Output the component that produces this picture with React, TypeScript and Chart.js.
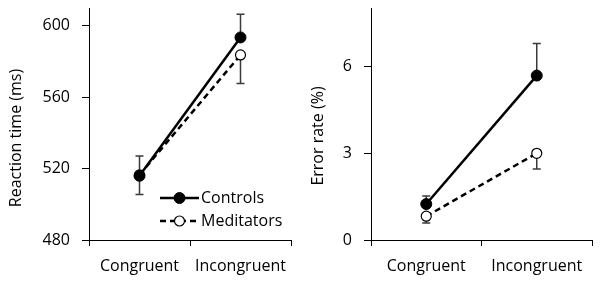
import React, { useEffect, useRef } from "react";
import { Chart, registerables } from "chart.js";

Chart.register(...registerables);

const categories = ["Congruent", "Incongruent"];
const seriesNames = ["Controls", "Meditators"];

// Reaction time panel
const rtControls = [516, 593.5];
const rtControlsErr = [11, 13];
const rtMeditators = [516.5, 583.7];
const rtMeditatorsErr = [11, 16];
const rtTicks = [480, 520, 560, 600];
const rtMin = 480;
const rtMax = 610;

// Error rate panel
const erControls = [1.24, 5.67];
const erControlsErr = [0.28, 1.11];
const erMeditators = [0.82, 2.99];
const erMeditatorsErr = [0.23, 0.54];
const erTicks = [0, 3, 6];
const erMin = 0;
const erMax = 8;

const FONT = "'Open Sans', sans-serif";

const errorBarPlugin = {
  id: "errorBars",
  beforeDatasetsDraw(chart: any) {
    const ctx = chart.ctx;
    const y = chart.scales.y;
    chart.data.datasets.forEach((ds: any, i: number) => {
      const meta = chart.getDatasetMeta(i);
      meta.data.forEach((pt: any, j: number) => {
        const v = ds.data[j];
        const e = ds.errors[j];
        const end = y.getPixelForValue(v + ds.errDir * e);
        ctx.save();
        ctx.strokeStyle = "#3a3a3a";
        ctx.lineWidth = 1.5;
        ctx.beginPath();
        ctx.moveTo(pt.x, pt.y);
        ctx.lineTo(pt.x, end);
        ctx.moveTo(pt.x - 4, end);
        ctx.lineTo(pt.x + 4, end);
        ctx.stroke();
        ctx.restore();
      });
    });
  },
};

const yTitlePlugin = {
  id: "yTitle",
  afterDraw(chart: any, _args: any, opts: any) {
    if (!opts || !opts.text) return;
    const ctx = chart.ctx;
    ctx.save();
    ctx.translate(opts.x, opts.y);
    ctx.rotate(-Math.PI / 2);
    ctx.font = `16px ${FONT}`;
    ctx.fillStyle = "#000";
    ctx.textAlign = "center";
    ctx.textBaseline = "middle";
    ctx.fillText(opts.text, 0, 0);
    ctx.restore();
  },
};

const innerLegendPlugin = {
  id: "innerLegend",
  afterDraw(chart: any, _args: any, opts: any) {
    if (!opts || !opts.show) return;
    const ctx = chart.ctx;
    chart.data.datasets.forEach((ds: any, i: number) => {
      const yy = opts.y + i * opts.rowGap;
      ctx.save();
      ctx.strokeStyle = "#000";
      ctx.lineWidth = ds.borderWidth;
      ctx.setLineDash(ds.borderDash || []);
      ctx.beginPath();
      ctx.moveTo(opts.x, yy);
      ctx.lineTo(opts.x + opts.lineLen, yy);
      ctx.stroke();
      ctx.setLineDash([]);
      ctx.beginPath();
      ctx.arc(opts.x + opts.lineLen / 2, yy, ds.pointRadius, 0, Math.PI * 2);
      ctx.fillStyle = ds.pointBackgroundColor;
      ctx.fill();
      ctx.lineWidth = ds.pointBorderWidth;
      ctx.strokeStyle = ds.pointBorderColor;
      ctx.stroke();
      ctx.font = `16px ${FONT}`;
      ctx.fillStyle = "#000";
      ctx.textAlign = "left";
      ctx.textBaseline = "middle";
      ctx.fillText(ds.label, opts.x + opts.lineLen + 2, yy);
      ctx.restore();
    });
  },
};

type Panel = {
  controls: number[];
  controlsErr: number[];
  meditators: number[];
  meditatorsErr: number[];
  ticks: number[];
  min: number;
  max: number;
  title: string;
  titleX: number;
  titleY: number;
  axisLeft: number;
  padRight: number;
  legend: boolean;
};

function makeConfig(p: Panel): any {
  return {
    type: "line",
    data: {
      labels: categories,
      datasets: [
        {
          label: seriesNames[0],
          data: p.controls,
          errors: p.controlsErr,
          errDir: 1,
          borderColor: "#000",
          backgroundColor: "#000",
          borderWidth: 2.5,
          pointRadius: 5.5,
          pointBackgroundColor: "#000",
          pointBorderColor: "#000",
          pointBorderWidth: 1,
        },
        {
          label: seriesNames[1],
          data: p.meditators,
          errors: p.meditatorsErr,
          errDir: -1,
          borderColor: "#000",
          backgroundColor: "#fff",
          borderWidth: 2.5,
          borderDash: [6, 4],
          pointRadius: 5,
          pointBackgroundColor: "#fff",
          pointBorderColor: "#000",
          pointBorderWidth: 1.2,
        },
      ],
    },
    options: {
      responsive: false,
      animation: false,
      layout: { padding: { top: 8, right: p.padRight, left: 0, bottom: 0 } },
      plugins: {
        legend: { display: false },
        tooltip: { enabled: false },
        yTitle: { text: p.title, x: p.titleX, y: p.titleY },
        innerLegend: { show: p.legend, x: 160, y: 198, rowGap: 23, lineLen: 39 },
      },
      scales: {
        x: {
          type: "category",
          offset: true,
          grid: {
            offset: true,
            drawOnChartArea: false,
            drawTicks: true,
            tickLength: 6,
            color: "#000",
          },
          border: { display: true, color: "#000", width: 1 },
          ticks: { color: "#000", font: { family: FONT, size: 16 }, padding: 11, maxRotation: 0 },
          afterFit: (s: any) => {
            s.height = 42;
            s.paddingLeft = 0;
            s.paddingRight = 0;
          },
        },
        y: {
          min: p.min,
          max: p.max,
          grid: {
            drawOnChartArea: false,
            drawTicks: true,
            tickLength: 7,
            color: "#000",
          },
          border: { display: true, color: "#000", width: 1 },
          ticks: { color: "#000", font: { family: FONT, size: 16 }, padding: 12 },
          afterBuildTicks: (s: any) => {
            s.ticks = p.ticks.map((v) => ({ value: v }));
          },
          afterFit: (s: any) => {
            s.width = p.axisLeft;
            s.paddingTop = 0;
            s.paddingBottom = 0;
          },
        },
      },
    },
    plugins: [errorBarPlugin, yTitlePlugin, innerLegendPlugin],
  };
}

function PanelChart({ panel }: { panel: Panel }) {
  const ref = useRef<HTMLCanvasElement | null>(null);
  useEffect(() => {
    if (!ref.current) return;
    const chart = new Chart(ref.current, makeConfig(panel));
    return () => chart.destroy();
  }, [panel]);
  return <canvas ref={ref} width={300} height={282} style={{ display: "block", width: 300, height: 282 }} />;
}

const leftPanel: Panel = {
  controls: rtControls,
  controlsErr: rtControlsErr,
  meditators: rtMeditators,
  meditatorsErr: rtMeditatorsErr,
  ticks: rtTicks,
  min: rtMin,
  max: rtMax,
  title: "Reaction time (ms)",
  titleX: 16,
  titleY: 138,
  axisLeft: 89,
  padRight: 9,
  legend: true,
};

const rightPanel: Panel = {
  controls: erControls,
  controlsErr: erControlsErr,
  meditators: erMeditators,
  meditatorsErr: erMeditatorsErr,
  ticks: erTicks,
  min: erMin,
  max: erMax,
  title: "Error rate (%)",
  titleX: 18,
  titleY: 136,
  axisLeft: 71,
  padRight: 8,
  legend: false,
};

export default function App() {
  return (
    <div
      style={{
        position: "absolute",
        left: 0,
        top: 0,
        width: 600,
        height: 282,
        background: "#fff",
        display: "flex",
      }}
    >
      <PanelChart panel={leftPanel} />
      <PanelChart panel={rightPanel} />
    </div>
  );
}
